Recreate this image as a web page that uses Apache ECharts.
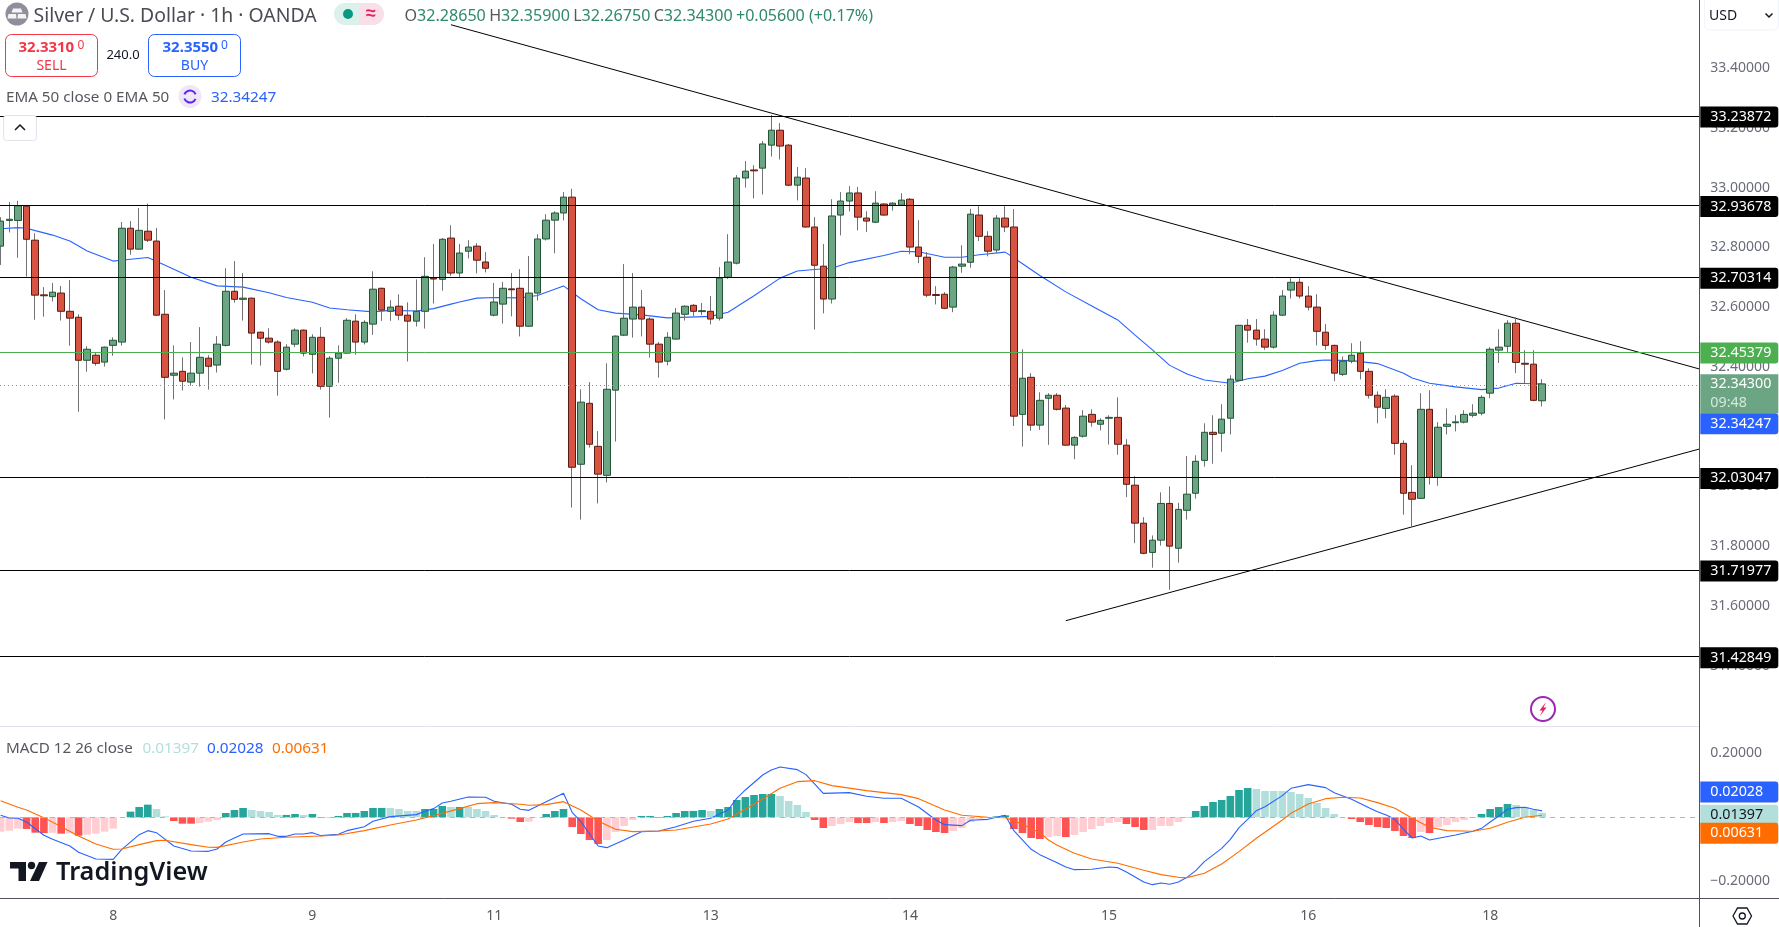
<!DOCTYPE html>
<html lang="en">
<head>
    <meta charset="UTF-8">
    <title>Silver / U.S. Dollar</title>
    <script src="https://cdn.jsdelivr.net/npm/echarts@6/dist/echarts.min.js"></script>
    <style>
        html, body { margin: 0; padding: 0; background: #fff; }
        #main { width: 1779px; height: 927px; }
    </style>
</head>
<body>
<div id="main"></div>
<script type="text/javascript">
    // hourly candles
    var opens = [
        32.804,32.890,32.890,32.938,32.824,32.641,32.635,32.647,32.586,32.566,
        32.422,32.439,32.416,32.472,32.483,32.864,32.794,32.854,32.821,32.576,
        32.372,32.385,32.349,32.379,32.429,32.406,32.472,32.653,32.626,32.630,
        32.516,32.496,32.483,32.392,32.476,32.523,32.442,32.499,32.335,32.429,
        32.446,32.553,32.483,32.543,32.663,32.586,32.603,32.573,32.553,32.586,
        32.697,32.693,32.831,32.714,32.787,32.804,32.751,32.573,32.610,32.661,
        32.663,32.536,32.647,32.828,32.891,32.915,32.968,32.074,32.278,32.134,
        32.037,32.322,32.506,32.560,32.600,32.560,32.476,32.419,32.493,32.576,
        32.606,32.585,32.586,32.563,32.700,32.747,33.032,33.059,33.065,33.142,
        33.192,33.142,33.008,33.032,32.868,32.737,32.627,32.908,32.955,32.982,
        32.898,32.884,32.945,32.941,32.941,32.961,32.801,32.767,32.642,32.643,
        32.600,32.737,32.750,32.908,32.837,32.791,32.898,32.868,32.241,32.365,
        32.205,32.295,32.305,32.262,32.138,32.168,32.241,32.208,32.228,32.231,
        32.138,32.004,31.877,31.779,31.820,31.943,31.793,31.920,31.977,32.087,
        32.181,32.178,32.228,32.355,32.539,32.523,32.493,32.466,32.573,32.657,
        32.683,32.637,32.600,32.516,32.472,32.375,32.419,32.446,32.385,32.305,
        32.261,32.302,32.144,31.980,31.960,32.258,32.030,32.201,32.213,32.215,
        32.238,32.245,32.312,32.456,32.469,32.546,32.412,32.409,32.2865
    ];
    var highs = [
        32.901,32.952,32.956,32.942,32.847,32.667,32.681,32.671,32.691,32.576,
        32.469,32.449,32.468,32.499,32.885,32.888,32.932,32.946,32.865,32.657,
        32.472,32.432,32.483,32.533,32.439,32.503,32.730,32.754,32.714,32.632,
        32.518,32.529,32.489,32.476,32.529,32.525,32.509,32.533,32.436,32.472,
        32.563,32.576,32.556,32.720,32.665,32.623,32.643,32.616,32.693,32.767,
        32.811,32.831,32.874,32.811,32.824,32.814,32.784,32.681,32.684,32.714,
        32.727,32.771,32.844,32.911,32.921,32.985,32.996,32.325,32.349,32.185,
        32.412,32.505,32.744,32.714,32.657,32.566,32.483,32.516,32.597,32.606,
        32.610,32.614,32.637,32.734,32.844,33.042,33.089,33.075,33.156,33.243,
        33.216,33.146,33.069,33.065,32.901,32.811,32.961,32.985,33.005,33.002,
        32.921,32.988,32.948,32.951,32.981,32.965,32.891,32.784,32.670,32.650,
        32.738,32.807,32.929,32.938,32.854,32.908,32.938,32.928,32.459,32.379,
        32.315,32.312,32.312,32.272,32.168,32.255,32.258,32.228,32.238,32.298,
        32.158,32.034,31.897,31.836,31.980,32.000,31.945,32.102,32.104,32.211,
        32.238,32.275,32.372,32.541,32.560,32.560,32.526,32.586,32.657,32.697,
        32.697,32.670,32.643,32.543,32.474,32.435,32.479,32.486,32.395,32.318,
        32.325,32.308,32.154,32.071,32.312,32.322,32.215,32.261,32.238,32.255,
        32.275,32.305,32.466,32.526,32.556,32.566,32.456,32.456,32.359
    ];
    var lows = [
        32.741,32.850,32.765,32.702,32.558,32.568,32.619,32.555,32.471,32.250,
        32.384,32.404,32.401,32.437,32.471,32.775,32.792,32.818,32.571,32.224,
        32.291,32.321,32.337,32.334,32.324,32.381,32.468,32.615,32.555,32.408,
        32.404,32.478,32.304,32.388,32.466,32.435,32.378,32.324,32.230,32.347,
        32.444,32.441,32.475,32.507,32.554,32.554,32.556,32.418,32.535,32.528,
        32.612,32.655,32.705,32.699,32.763,32.713,32.716,32.569,32.545,32.569,
        32.502,32.534,32.622,32.823,32.780,32.890,31.929,31.889,32.130,31.943,
        32.013,32.150,32.503,32.498,32.502,32.431,32.364,32.405,32.491,32.555,
        32.569,32.573,32.542,32.555,32.694,32.743,33.000,32.964,32.977,33.104,
        33.094,33.006,32.957,32.866,32.525,32.579,32.612,32.840,32.920,32.857,
        32.851,32.881,32.906,32.923,32.939,32.777,32.747,32.633,32.609,32.593,
        32.583,32.715,32.732,32.821,32.770,32.780,32.851,32.202,32.133,32.186,
        32.189,32.139,32.254,32.136,32.091,32.163,32.200,32.187,32.140,32.106,
        31.964,31.810,31.773,31.728,31.802,31.654,31.745,31.889,31.959,32.066,
        32.076,32.116,32.174,32.353,32.481,32.471,32.457,32.461,32.570,32.629,
        32.629,32.589,32.472,32.457,32.352,32.369,32.412,32.358,32.294,32.211,
        32.228,32.106,31.905,31.866,31.958,32.006,32.002,32.174,32.184,32.211,
        32.231,32.238,32.295,32.413,32.446,32.379,32.345,32.285,32.2675
    ];
    var closes = [
        32.888,32.894,32.939,32.827,32.640,32.638,32.650,32.586,32.563,32.422,
        32.459,32.412,32.466,32.489,32.864,32.794,32.857,32.824,32.573,32.365,
        32.379,32.352,32.379,32.432,32.402,32.476,32.653,32.626,32.630,32.513,
        32.496,32.483,32.385,32.466,32.523,32.446,32.499,32.335,32.429,32.446,
        32.556,32.483,32.549,32.660,32.590,32.600,32.573,32.553,32.586,32.703,
        32.694,32.827,32.714,32.781,32.801,32.757,32.730,32.617,32.663,32.658,
        32.536,32.647,32.828,32.891,32.915,32.968,32.064,32.282,32.141,32.041,
        32.325,32.503,32.563,32.600,32.560,32.476,32.416,32.499,32.580,32.603,
        32.586,32.588,32.560,32.697,32.751,33.032,33.055,33.056,33.146,33.192,
        33.139,33.008,33.035,32.868,32.740,32.627,32.905,32.955,32.982,32.901,
        32.888,32.948,32.908,32.948,32.958,32.801,32.770,32.640,32.639,32.596,
        32.734,32.744,32.911,32.837,32.787,32.898,32.868,32.235,32.362,32.205,
        32.288,32.305,32.258,32.138,32.164,32.235,32.215,32.221,32.231,32.141,
        32.007,31.877,31.776,31.820,31.943,31.800,31.923,31.974,32.084,32.181,
        32.174,32.225,32.359,32.539,32.523,32.493,32.466,32.573,32.637,32.683,
        32.637,32.600,32.519,32.472,32.379,32.419,32.439,32.385,32.305,32.265,
        32.298,32.144,31.977,31.957,32.258,32.030,32.198,32.208,32.216,32.241,
        32.245,32.298,32.459,32.466,32.546,32.415,32.409,32.288,32.343
    ];

    // EMA 50 as read at some candles
    var emaIdx = [0,2,3,4,6,8,10,13,15,17,19,22,25,28,31,33,36,38,40,43,45,48,50,52,
        53,55,57,60,62,65,67,69,71,74,77,82,84,87,90,92,94,96,98,102,
        104,106,109,111,113,116,118,120,123,126,129,131,133,135,137,139,142,144,146,148,150,152,
        153,156,159,162,163,165,168,171,173,175,178];
    var emaVals = [32.862,32.866,32.864,32.856,32.841,32.821,32.788,32.754,32.760,32.766,32.740,32.700,32.671,32.667,32.648,32.632,32.616,32.597,32.591,32.584,32.589,32.587,32.595,32.610,
        32.617,32.630,32.632,32.631,32.639,32.671,32.628,32.591,32.580,32.574,32.564,32.569,32.583,32.638,32.697,32.721,32.726,32.730,32.749,32.773,
        32.787,32.785,32.767,32.767,32.775,32.784,32.745,32.706,32.651,32.604,32.557,32.506,32.457,32.405,32.376,32.356,32.345,32.360,32.369,32.388,32.412,32.421,
        32.423,32.421,32.411,32.379,32.363,32.345,32.333,32.324,32.329,32.345,32.34247];

    var levelValues = [33.23872, 32.93678, 32.70314, 32.03047, 31.71977, 31.42849];
    var supportValue = 32.45379;
    var lastClose = 32.343;
    var emaLast = 32.34247;
    var countdown = '09:48';

    // trend lines: candle index and price at both ends
    var fallTrendIdx = [52, 196.15];
    var fallTrendVals = [33.545, 32.393];
    var riseTrendIdx = [123, 196.15];
    var riseTrendVals = [31.5505, 32.125];

    var priceTicks = [31.4,31.6,31.8,32.0,32.2,32.4,32.6,32.8,33.0,33.2,33.4];
    var dayTicks = [13,36,57,82,105,128,151,172];
    var dayLabels = ['8','9','11','13','14','15','16','18'];
    var macdTicks = [-0.2, 0.2];

    var histVals = [
        -.0449,-.0418,-.0355,-.0365,-.0481,-.0491,-.0485,-.0512,-.0502,-.0575,
        -.0543,-.0512,-.0449,-.0355,-.0010,.0178,.0324,.0397,.0261,.0031,
        -.0115,-.0199,-.0200,-.0178,-.0136,-.0084,.0136,.0230,.0293,.0230,
        .0199,.0167,.0073,.0075,.0105,.0073,.0105,-.0021,.0010,.0042,
        .0136,.0137,.0199,.0293,.0294,.0292,.0261,.0199,.0198,.0261,
        .0262,.0355,.0324,.0325,.0324,.0261,.0199,.0073,.0010,-.0042,
        -.0146,-.0136,-.0010,.0105,.0199,.0261,-.0303,-.0523,-.0711,-.0836,
        -.0711,-.0460,-.0272,-.0084,.0042,.0043,-.0021,.0042,.0136,.0199,
        .0200,.0230,.0199,.0261,.0324,.0543,.0637,.0700,.0731,.0732,
        .0669,.0512,.0387,.0167,-.0084,-.0334,-.0272,-.0209,-.0146,-.0178,
        -.0179,-.0146,-.0178,-.0146,-.0115,-.0209,-.0272,-.0397,-.0460,-.0491,
        -.0428,-.0334,-.0146,-.0042,-.0021,.0031,.0063,-.0366,-.0491,-.0648,
        -.0679,-.0617,-.0585,-.0617,-.0554,-.0460,-.0366,-.0272,-.0178,-.0146,
        -.0209,-.0303,-.0397,-.0396,-.0272,-.0271,-.0146,.0010,.0199,.0355,
        .0481,.0543,.0669,.0857,.0920,.0888,.0826,.0825,.0824,.0794,
        .0732,.0606,.0449,.0293,.0105,.0010,-.0052,-.0146,-.0240,-.0303,
        -.0334,-.0428,-.0585,-.0648,-.0460,-.0491,-.0303,-.0240,-.0146,-.0084,
        .0010,.0105,.0261,.0324,.0418,.0387,.0324,.0230,.01397
    ];
    var macdIdx = [0,1,2,3,5,6,8,9,11,13,14,16,17,18,20,22,24,25,26,28,31,32,33,34,35,36,37,39,40,42,43,45,48,49,50,51,52,54,56,57,59,60,
        61,63,65,66,67,69,70,72,74,76,78,80,82,84,85,86,88,89,90,92,93,95,98,100,102,104,106,108,109,111,112,114,116,117,119,120,
        121,122,123,124,126,128,129,130,132,133,134,135,136,137,138,139,141,142,143,144,145,146,148,149,151,153,154,156,158,159,160,161,162,163,164,165,168,170,171,172,173,174,175,176,177,178];
    var macdVals = [.0063,-.0021,-.0031,-.0146,-.0564,-.0690,-.0899,-.1097,-.1306,-.1317,-.1003,-.0543,-.0418,-.0481,-.0899,-.1055,-.1066,-.0993,-.0773,-.0522,-.0512,-.0596,-.0596,-.0522,-.0522,-.0481,-.0575,-.0533,-.0418,-.0293,-.0125,.0021,.0084,.0188,.0272,.0449,.0502,.0637,.0627,.0502,.0408,.0251,
        .0219,.0491,.0752,.0157,-.0136,-.0899,-.0951,-.0711,-.0449,-.0428,-.0293,-.0125,-.0031,.0230,.0596,.0857,.1327,.1484,.1578,.1494,.1338,.0752,.0773,.0658,.0596,.0596,.0324,-.0084,-.0230,-.0261,-.0094,-.0063,.0063,-.0418,-.1003,-.1170,
        -.1296,-.1421,-.1557,-.1641,-.1630,-.1557,-.1578,-.1714,-.2027,-.2111,-.2059,-.2100,-.2027,-.1881,-.1672,-.1390,-.0972,-.0690,-.0324,-.0063,.0209,.0334,.0679,.0909,.1024,.0930,.0773,.0564,.0303,.0178,.0073,-.0063,-.0376,-.0648,-.0585,-.0711,-.0554,-.0439,-.0345,-.0146,.0042,.0251,.0303,.0313,.0251,.02028];
    var signalIdx = [0,2,3,5,7,9,11,13,14,16,18,19,22,24,25,28,30,33,37,39,42,45,48,50,53,55,57,60,
        61,63,65,67,69,71,73,76,78,82,84,86,88,90,92,94,96,100,104,106,109,111,114,116,118,120,
        121,122,124,126,129,132,134,136,137,139,141,143,145,148,149,151,153,155,157,159,161,163,165,167,170,172,174,176,178];
    var signalVals = [.0522,.0313,.0230,-.0010,-.0293,-.0585,-.0836,-.1003,-.0993,-.0857,-.0731,-.0721,-.0857,-.0940,-.0941,-.0773,-.0679,-.0627,-.0585,-.0554,-.0418,-.0240,-.0084,.0052,.0272,.0428,.0460,.0408,
        .0376,.0397,.0491,.0230,-.0115,-.0376,-.0449,-.0428,-.0397,-.0209,-.0052,.0251,.0575,.0909,.1118,.1149,.0993,.0836,.0711,.0585,.0230,.0063,.0000,-.0010,-.0219,-.0481,
        -.0711,-.0878,-.1129,-.1306,-.1442,-.1661,-.1797,-.1881,-.1891,-.1755,-.1463,-.1076,-.0658,-.0084,.0125,.0418,.0585,.0627,.0606,.0460,.0282,-.0031,-.0313,-.0418,-.0439,-.0345,-.0157,.0000,.00631];

    var FONT = '"Noto Sans", sans-serif';
    var GREEN = '#6ba583', RED = '#d75442', GREEN_LINE = '#225437', RED_LINE = '#5b1a13', WICK = '#737375';
    var AXIS_LINE = '#50535e', TICK_TEXT = '#6a6d78';

    function pairs(xs, ys) {
        return xs.map(function (x, i) { return [x, ys[i]]; });
    }
    function histColor(v, i) {
        var prev = i > 0 ? histVals[i - 1] : v;
        if (v >= 0) return v > prev ? '#26a69a' : '#b2dfdb';
        return v < prev ? '#ff5252' : '#ffcdd2';
    }

    var wickData = closes.map(function (c, i) { return [i, opens[i], c, lows[i], highs[i]]; });
    var bodyData = closes.map(function (c, i) {
        return [i, opens[i], c, Math.min(opens[i], c), Math.max(opens[i], c)];
    });
    var histData = histVals.map(function (v, i) {
        return { value: [i, v], itemStyle: { color: histColor(v, i) } };
    });

    // price tag on the axis, the label of a markLine
    function tag(value, text, bg, fg, lineStyle, offsetY) {
        return {
            yAxis: value,
            lineStyle: lineStyle,
            label: {
                show: true, position: 'end', distance: 1, formatter: text,
                backgroundColor: bg, color: fg, fontFamily: FONT, fontSize: 14.3,
                width: 68, height: 21, lineHeight: 21, padding: [0, 0, 0, 10],
                align: 'left', verticalAlign: 'middle', borderRadius: [0, 3, 3, 0],
                offset: [0, (offsetY || 0) + 1]
            }
        };
    }
    var black = { color: '#000', width: 1, type: 'solid', opacity: 1 };
    var hidden = { color: 'rgba(0,0,0,0)', width: 1, type: 'solid', opacity: 1 };

    var levelTags = levelValues.map(function (v) { return tag(v, v.toFixed(5), '#000', '#fff', black); });
    levelTags.push(tag(supportValue, supportValue.toFixed(5), '#4caf50', '#fff', { color: '#4caf50', width: 1, type: 'solid', opacity: 1 }));
    levelTags.push({
        yAxis: lastClose,
        lineStyle: { color: GREEN, width: 1, type: [1, 3], opacity: 1 },
        label: {
            show: true, position: 'end', distance: 1,
            formatter: '{a|' + lastClose.toFixed(5) + '}\n{b|' + countdown + '}',
            backgroundColor: GREEN, padding: [0, 0, 0, 10], width: 68, height: 39,
            align: 'left', verticalAlign: 'middle', offset: [0, 9],
            rich: {
                a: { color: '#fff', fontFamily: FONT, fontSize: 14.3, lineHeight: 20 },
                b: { color: '#d5e8dd', fontFamily: FONT, fontSize: 14.3, lineHeight: 18 }
            }
        }
    });
    levelTags.push(tag(emaLast, emaLast.toFixed(5), '#2962ff', '#fff', hidden, 38));

    function txt(x, y, text, size, fill, weight, align) {
        return {
            type: 'text', z: 100, silent: true,
            style: {
                x: x, y: y, text: text, fill: fill, textAlign: align || 'left', textVerticalAlign: 'middle',
                font: (weight || 'normal') + ' ' + size + 'px ' + FONT
            }
        };
    }
    function box(x, y, w, h, r, fill, stroke) {
        return {
            type: 'rect', z: 99, silent: true, shape: { x: x, y: y, width: w, height: h, r: r },
            style: { fill: fill, stroke: stroke, lineWidth: 1 }
        };
    }
    function poly(points, fill) {
        return { type: 'polygon', z: 100, silent: true, shape: { points: points }, style: { fill: fill } };
    }
    function chain(points, stroke, width) {
        return {
            type: 'polyline', z: 100, silent: true, shape: { points: points },
            style: { stroke: stroke, lineWidth: width || 1, fill: 'none' }
        };
    }
    function dot(x, y, r, fill, stroke, width) {
        return {
            type: 'circle', z: 100, silent: true, shape: { cx: x, cy: y, r: r },
            style: { fill: fill, stroke: stroke, lineWidth: width || 1 }
        };
    }

    var ornaments = [
        // symbol line
        dot(17, 14, 11.5, '#8f8f9c', null),
        poly([[13, 8.5], [21, 8.5], [22.5, 12.5], [11.5, 12.5]], '#f4f4f6'),
        poly([[8.5, 14], [16, 14], [16.5, 18.5], [7.5, 18.5]], '#f4f4f6'),
        poly([[18, 14], [25.5, 14], [26.5, 18.5], [17.5, 18.5]], '#f4f4f6'),
        txt(33.5, 16.5, 'Silver / U.S. Dollar · 1h · OANDA', 19.4, '#4a4c54'),
        { type: 'rect', z: 99, silent: true, shape: { x: 334, y: 3, width: 25, height: 22, r: [11, 0, 0, 11] }, style: { fill: '#dcf1ec' } },
        { type: 'rect', z: 99, silent: true, shape: { x: 359, y: 3, width: 25, height: 22, r: [0, 11, 11, 0] }, style: { fill: '#f9dfe7' } },
        dot(348, 14, 5, '#089981', null),
        txt(371, 14, '≈', 18, '#e91e63', 'bold', 'center'),
        {
            type: 'text', z: 100, silent: true,
            style: {
                x: 404.5, y: 16, textVerticalAlign: 'middle',
                text: '{k|O}{v|32.28650} {k|H}{v|32.35900} {k|L}{v|32.26750} {k|C}{v|32.34300} {v|+0.05600 (+0.17%)}',
                rich: {
                    k: { fill: '#55585f', font: '16.1px ' + FONT },
                    v: { fill: '#2f8a6b', font: '16.1px ' + FONT }
                }
            }
        },
        // order buttons
        box(5.5, 34.5, 92, 42, 6, '#fff', '#f23645'),
        txt(18.5, 48, '32.3310', 15, '#f23645', 'bold'),
        txt(77.5, 46, '0', 12, '#f23645'),
        txt(51.5, 66, 'SELL', 14, '#f23645', 'normal', 'center'),
        txt(123, 55.5, '240.0', 13, '#131722', 'normal', 'center'),
        box(148.5, 34.5, 92, 42, 6, '#fff', '#2962ff'),
        txt(162.5, 48, '32.3550', 15, '#2962ff', 'bold'),
        txt(221, 46, '0', 12, '#2962ff'),
        txt(194.5, 66, 'BUY', 14, '#2962ff', 'normal', 'center'),
        // indicator legend
        txt(6, 97.5, 'EMA 50 close 0 EMA 50', 15.2, '#55585f'),
        dot(190, 96.5, 11.5, '#ede7f6', null),
        { type: 'arc', z: 100, silent: true, shape: { cx: 190, cy: 96.5, r: 6, startAngle: 3.5, endAngle: 5.9 }, style: { stroke: '#651fff', lineWidth: 2, fill: 'none' } },
        { type: 'arc', z: 100, silent: true, shape: { cx: 190, cy: 96.5, r: 6, startAngle: 0.4, endAngle: 2.8 }, style: { stroke: '#651fff', lineWidth: 2, fill: 'none' } },
        txt(211, 97.5, '32.34247', 15.3, '#2962ff'),
        box(3.5, 115.5, 33, 25, 3, '#fff', '#e0e3eb'),
        chain([[15, 130], [20, 125], [25, 130]], '#131722', 1.5),
        // USD dropdown
        box(1704.5, -4, 74, 34, 5, '#fff', '#f0f3fa'),
        txt(1709, 16.5, 'USD', 14, '#131722'),
        chain([[1765.5, 13.5], [1769, 17], [1772.5, 13.5]], '#131722', 1.5),
        // lightning badge
        dot(1543, 709, 12, '#fff', '#9c27b0', 2),
        poly([[1546, 702], [1539.5, 710.5], [1542.5, 710.5], [1540, 716], [1546.5, 707.5], [1543.5, 707.5]], '#e91e63'),
        // macd legend
        txt(6, 749, 'MACD 12 26 close', 15.2, '#55585f'),
        txt(142.5, 749, '0.01397', 15.3, '#b2dfdb'),
        txt(207, 749, '0.02028', 15.3, '#2962ff'),
        txt(272, 749, '0.00631', 15.3, '#ff6d00'),
        // logo
        poly([[10, 862], [26, 862], [26, 881], [18.5, 881], [18.5, 868.5], [10, 868.5]], '#131722'),
        dot(31.5, 865.5, 3.7, '#131722', null),
        poly([[39, 862], [47.5, 862], [39, 881], [30, 881]], '#131722'),
        txt(56, 873, 'TradingView', 25.3, '#131722', '600'),
        // pane frame
        { type: 'line', z: 50, silent: true, shape: { x1: 0, y1: 726.5, x2: 1699, y2: 726.5 }, style: { stroke: '#e0e3eb', lineWidth: 1 } },
        { type: 'line', z: 50, silent: true, shape: { x1: 0, y1: 898.5, x2: 1779, y2: 898.5 }, style: { stroke: AXIS_LINE, lineWidth: 1 } },
        { type: 'line', z: 50, silent: true, shape: { x1: 1699.5, y1: 0, x2: 1699.5, y2: 927 }, style: { stroke: AXIS_LINE, lineWidth: 1 } },
        // settings icon
        {
            type: 'polygon', z: 100, silent: true,
            shape: { points: [[1733, 916], [1737.5, 908], [1747, 908], [1751.5, 916], [1747, 924], [1737.5, 924]] },
            style: { fill: '#fff', stroke: '#131722', lineWidth: 1.3 }
        },
        dot(1742.3, 916, 3, '#fff', '#131722', 1.3)
    ];

    var myChart = echarts.init(document.getElementById('main'));
    var option = {
        animation: false,
        backgroundColor: '#fff',
        textStyle: { fontFamily: FONT },
        graphic: { elements: ornaments },
        grid: [
            { left: 0, top: 0, width: 1699.3, height: 726 },
            { left: 0, top: 727, width: 1699.3, height: 171 }
        ],
        xAxis: [
            { type: 'value', gridIndex: 0, min: -0.0693, max: 196.15, show: false },
            {
                type: 'value', gridIndex: 1, min: -0.0693, max: 196.15,
                splitLine: { show: false }, axisLine: { show: false }, axisTick: { show: false },
                axisLabel: {
                    customValues: dayTicks, margin: 11, color: '#55585f', fontSize: 14, fontFamily: FONT,
                    formatter: function (v) { return dayLabels[dayTicks.indexOf(v)]; }
                }
            }
        ],
        yAxis: [
            {
                type: 'value', gridIndex: 0, position: 'right', min: 31.1981, max: 33.6278,
                splitLine: { show: false }, axisLine: { show: false }, axisTick: { show: false },
                axisLabel: {
                    customValues: priceTicks, margin: 11, color: TICK_TEXT, fontSize: 14, fontFamily: FONT,
                    padding: [1, 0, 0, 0],
                    formatter: function (v) { return v.toFixed(5); }
                }
            },
            {
                type: 'value', gridIndex: 1, position: 'right', min: -0.2529, max: 0.2831,
                splitLine: { show: false }, axisLine: { show: false }, axisTick: { show: false },
                axisLabel: {
                    customValues: macdTicks, margin: 11, color: TICK_TEXT, fontSize: 14, fontFamily: FONT,
                    padding: [2, 0, 0, 0],
                    formatter: function (v) { return (v < 0 ? '\u2212' : '') + Math.abs(v).toFixed(5); }
                }
            }
        ],
        series: [
            {
                name: 'levels', type: 'line', xAxisIndex: 0, yAxisIndex: 0, data: [], z: 1,
                markLine: { silent: true, symbol: 'none', animation: false, data: levelTags }
            },
            {
                name: 'fall trend', type: 'line', xAxisIndex: 0, yAxisIndex: 0, z: 1, symbol: 'none',
                data: pairs(fallTrendIdx, fallTrendVals), lineStyle: { color: '#000', width: 1 }
            },
            {
                name: 'rise trend', type: 'line', xAxisIndex: 0, yAxisIndex: 0, z: 1, symbol: 'none',
                data: pairs(riseTrendIdx, riseTrendVals), lineStyle: { color: '#000', width: 1 }
            },
            {
                name: 'EMA 50', type: 'line', xAxisIndex: 0, yAxisIndex: 0, z: 2, symbol: 'none',
                data: pairs(emaIdx, emaVals), lineStyle: { color: '#2962ff', width: 1.1 }
            },
            {
                name: 'wicks', type: 'candlestick', xAxisIndex: 0, yAxisIndex: 0, z: 3, barWidth: 1,
                data: wickData,
                itemStyle: { color: WICK, color0: WICK, borderColor: WICK, borderColor0: WICK, borderColorDoji: WICK, borderWidth: 1 }
            },
            {
                name: 'bodies', type: 'candlestick', xAxisIndex: 0, yAxisIndex: 0, z: 4, barWidth: 7,
                data: bodyData,
                itemStyle: { color: GREEN, color0: RED, borderColor: GREEN_LINE, borderColor0: RED_LINE, borderWidth: 1 }
            },
            {
                name: 'Histogram', type: 'bar', xAxisIndex: 1, yAxisIndex: 1, z: 2, barWidth: 7.6,
                data: histData,
                markLine: {
                    silent: true, symbol: 'none', animation: false,
                    data: [
                        { yAxis: 0, lineStyle: { color: '#b2b5be', width: 1, type: [5, 5], opacity: 1 }, label: { show: false } },
                        tag(histVals[histVals.length - 1], histVals[histVals.length - 1].toFixed(5), '#b2dfdb', '#131722', hidden)
                    ]
                }
            },
            {
                name: 'MACD', type: 'line', xAxisIndex: 1, yAxisIndex: 1, z: 3, symbol: 'none',
                data: pairs(macdIdx, macdVals), lineStyle: { color: '#2962ff', width: 1.1 },
                markLine: {
                    silent: true, symbol: 'none', animation: false,
                    data: [tag(macdVals[macdVals.length - 1], macdVals[macdVals.length - 1].toFixed(5), '#2962ff', '#fff', hidden, -20)]
                }
            },
            {
                name: 'Signal', type: 'line', xAxisIndex: 1, yAxisIndex: 1, z: 3, symbol: 'none',
                data: pairs(signalIdx, signalVals), lineStyle: { color: '#ff6d00', width: 1.1 },
                markLine: {
                    silent: true, symbol: 'none', animation: false,
                    data: [tag(signalVals[signalVals.length - 1], signalVals[signalVals.length - 1].toFixed(5), '#ff6d00', '#fff', hidden, 18)]
                }
            }
        ]
    };
    myChart.setOption(option);
</script>
</body>
</html>
